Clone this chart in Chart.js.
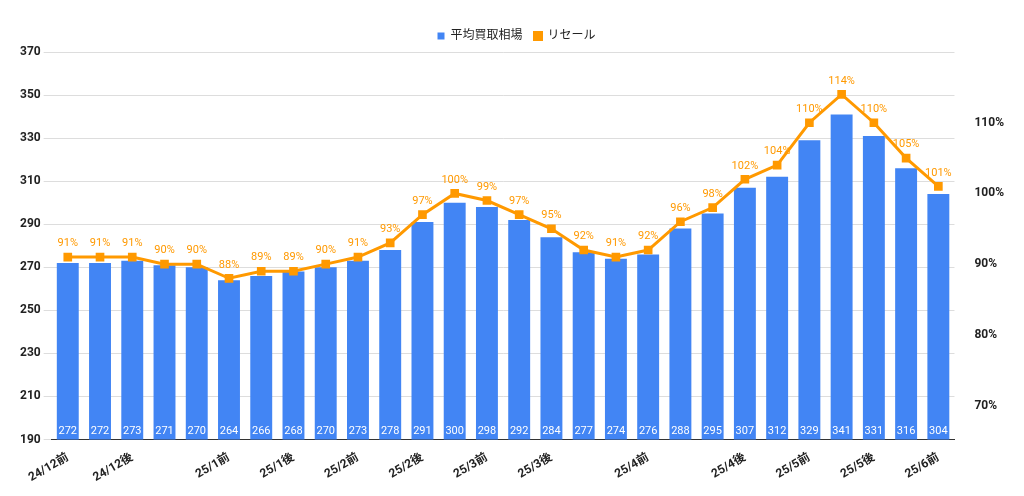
<!DOCTYPE html>
<html>
<head>
<meta charset="utf-8">
<script src="https://cdn.jsdelivr.net/npm/chart.js@4"></script>
<style>
  body { margin: 0; background: #fff; }
  #wrap { width: 1024px; height: 496px; }
</style>
</head>
<body>
<div id="wrap"><canvas id="priceCanvas"></canvas></div>
<script>
// categories (only some are labelled on the axis)
const periods = ['24/12前', '', '24/12後', '', '', '25/1前', '', '25/1後', '', '25/2前', '', '25/2後', '', '25/3前',
  '', '25/3後', '', '', '25/4前', '', '', '25/4後', '', '25/5前', '', '25/5後', '', '25/6前'];
// average buyback price
const buyback = [272, 272, 273, 271, 270, 264, 266, 268, 270, 273, 278, 291, 300, 298, 292, 284, 277, 274, 276,
  288, 295, 307, 312, 329, 341, 331, 316, 304];
// resale rate (%)
const resale = [91, 91, 91, 90, 90, 88, 89, 89, 90, 91, 93, 97, 100, 99, 97, 95, 92, 91, 92, 96, 98, 102, 104,
  110, 114, 110, 105, 101];
const leftTicks = [190, 210, 230, 250, 270, 290, 310, 330, 350, 370];
const rightTicks = [70, 80, 90, 100, 110];

const font = 'Roboto, "Noto Sans CJK JP", sans-serif';
Chart.defaults.font.family = font;

// draw value labels on bars and points
const valueLabels = {
    id: 'valueLabels',
    afterDatasetsDraw(chart) {
        const c = chart.ctx;
        c.save();
        c.font = '11px ' + font;
        c.textAlign = 'center';
        chart.getDatasetMeta(1).data.forEach((bar, i) => {
            c.fillStyle = '#ffffff';
            c.textBaseline = 'bottom';
            c.fillText(buyback[i], bar.x, chart.chartArea.bottom - 3);
        });
        chart.getDatasetMeta(0).data.forEach((pt, i) => {
            c.fillStyle = '#ff9900';
            c.textBaseline = 'bottom';
            c.fillText(resale[i] + '%', pt.x, pt.y - 8);
        });
        c.restore();
    }
};

const ctx = document.getElementById('priceCanvas').getContext('2d');
new Chart(ctx, {
    data: {
        labels: periods,
        datasets: [{
            type: 'line',
            label: 'リセール',
            data: resale,
            yAxisID: 'y1',
            borderColor: '#ff9900',
            backgroundColor: '#ff9900',
            borderWidth: 3,
            pointStyle: 'rect',
            pointRadius: 4,
            tension: 0,
            order: 0
        }, {
            type: 'bar',
            label: '平均買取相場',
            data: buyback,
            yAxisID: 'y',
            backgroundColor: '#4285f4',
            categoryPercentage: 0.68,
            barPercentage: 1,
            order: 1
        }]
    },
    options: {
        responsive: true,
        maintainAspectRatio: false,
        animation: false,
        layout: { padding: { left: 17, right: 8, top: 18, bottom: 8 } },
        plugins: {
            legend: {
                reverse: true,
                labels: { boxWidth: 7, boxHeight: 7, padding: 12, color: '#222', font: { size: 12 } }
            },
            tooltip: { enabled: false }
        },
        scales: {
            x: {
                grid: { display: false },
                border: { color: '#333' },
                ticks: {
                    autoSkip: false, maxRotation: 30, minRotation: 30,
                    color: '#222', font: { size: 12, weight: 'bold' }
                }
            },
            y: {
                position: 'left',
                min: 190, max: 370,
                afterBuildTicks: s => { s.ticks = leftTicks.map(v => ({ value: v })); },
                grid: { color: '#dddddd' },
                border: { display: false },
                ticks: { color: '#222', font: { size: 12, weight: 'bold' } }
            },
            y1: {
                position: 'right',
                min: 65.2, max: 120,
                afterBuildTicks: s => { s.ticks = rightTicks.map(v => ({ value: v })); },
                grid: { display: false },
                border: { display: false },
                ticks: { color: '#222', padding: 12, font: { size: 12, weight: 'bold' }, callback: v => v + '%' }
            }
        }
    },
    plugins: [valueLabels]
});
</script>
</body>
</html>
